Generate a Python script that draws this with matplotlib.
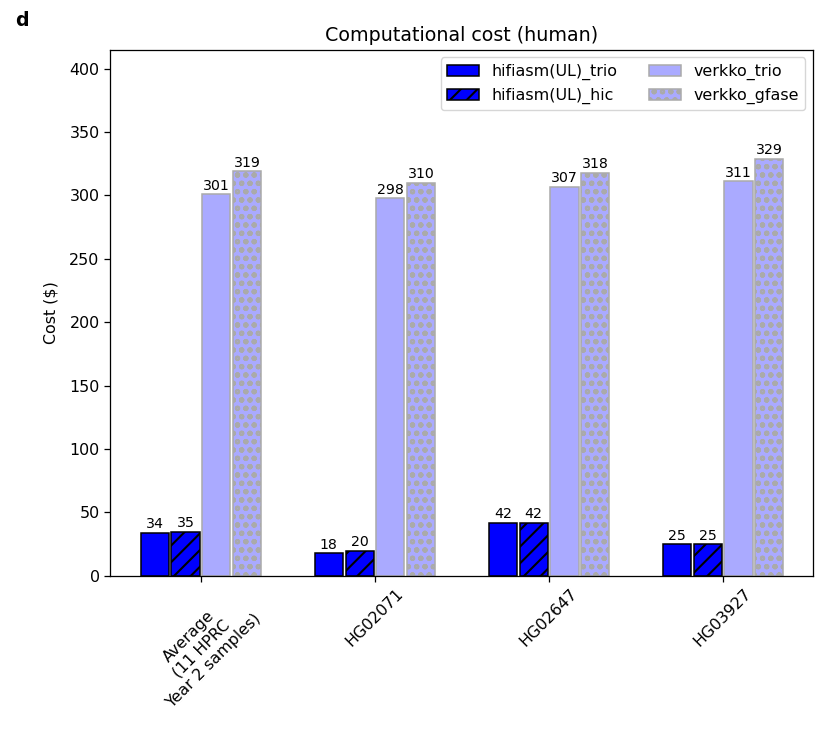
import numpy as np
import matplotlib.pyplot as plt

# reference looks like a 100-dpi render with everything scaled up ~1.14
s = 1.14
plt.rcParams['hatch.linewidth'] = 1.5
plt.rcParams['axes.linewidth'] = 0.8 * s
plt.rcParams['xtick.major.width'] = 0.8 * s
plt.rcParams['ytick.major.width'] = 0.8 * s
plt.rcParams['xtick.major.size'] = 3.5 * s
plt.rcParams['ytick.major.size'] = 3.5 * s

samples = ["Average\n(11 HPRC\nYear 2 samples)", "HG02071", "HG02647", "HG03927"]
hifiasm_trio = [34, 18, 42, 25]
hifiasm_hic = [35, 20, 42, 25]
verkko_trio = [301, 298, 307, 311]
verkko_gfase = [319, 310, 318, 329]

series = [
    ("hifiasm(UL)_trio", hifiasm_trio, "#0000ff", "black", None),
    ("hifiasm(UL)_hic", hifiasm_hic, "#0000ff", "black", "//"),
    ("verkko_trio", verkko_trio, "#aaaaff", "#aaaaaa", None),
    ("verkko_gfase", verkko_gfase, "#aaaaff", "#aaaaaa", "oo"),
]

fig = plt.figure(figsize=(8.3, 7.29), dpi=100)
ax = fig.add_axes([0.1325, 0.21, 0.847, 0.722])

x = np.arange(len(samples))
step = 0.177
width = 0.162
for i, (name, vals, fc, ec, hatch) in enumerate(series):
    bars = ax.bar(x + (i - 1.5) * step, vals, width, color=fc, edgecolor=ec,
                  hatch=hatch, linewidth=1.1, label=name)
    ax.bar_label(bars, labels=[str(v) for v in vals], fontsize=10.2, padding=1)

ax.set_xlim(-0.523, 3.517)
ax.set_ylim(0, 415)
ax.set_xticks(x)
ax.set_xticklabels(samples, rotation=45, ha="center")
ax.tick_params(labelsize=11.4)
ax.set_ylabel("Cost ($)", fontsize=11.4, labelpad=8)
ax.set_title("Computational cost (human)", fontsize=13.7)
ax.legend(ncol=2, loc="upper right", fontsize=11.4)

fig.text(0.018, 0.965, "d", fontsize=13.7, fontweight="bold")

fig.savefig("out.png", dpi=100)
